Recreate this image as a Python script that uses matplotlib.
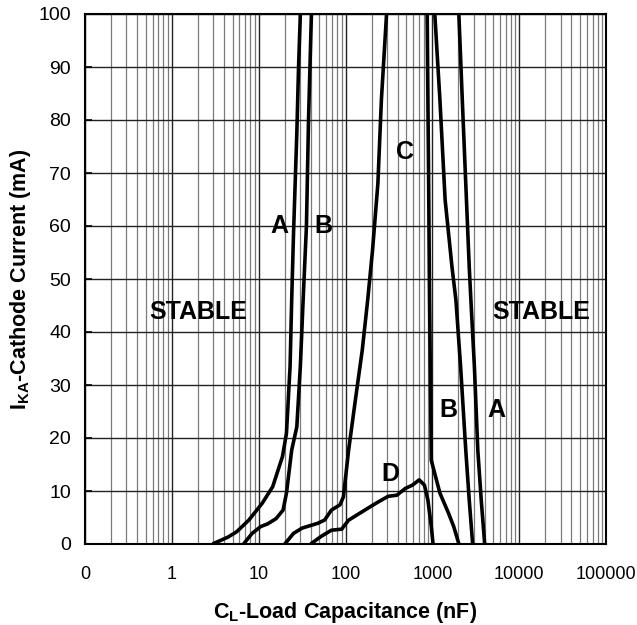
import numpy as np
import matplotlib.pyplot as plt
from matplotlib.ticker import FixedLocator, LogLocator, NullFormatter

plt.rcParams['font.family'] = ['Liberation Sans', 'DejaVu Sans']

# CURVE DATA (x in nF, y in mA)
a_left_x = [2.94, 4.43, 5.57, 7.7, 11, 14.5, 18.8, 20.9, 23, 24, 25.2, 27.5, 28.8, 30.2]
a_left_y = [0, 1.3, 2.3, 4.5, 7.7, 10.8, 16.5, 20.9, 33.5, 46, 58.6, 77.5, 90, 100]
a_right_x = [2020, 2213, 2427, 2660, 2780, 3050, 3340, 3656, 4008]
a_right_y = [100, 83.8, 68, 52.3, 46, 33.5, 17.7, 8.3, 0]

b_left_x = [6.7, 8.4, 10.6, 12.7, 15.9, 19.1, 20.9, 24, 27.5, 30.2, 32.5, 35.5, 37.5, 40.5]
b_left_y = [0, 2, 3.3, 3.8, 4.8, 6.4, 9.6, 17.7, 22.1, 33.5, 46, 60, 80, 100]
b_right_x = [1067, 1223, 1403, 1683, 1870, 2115, 2427, 2660, 2913]
b_right_y = [100, 83.8, 65, 52.3, 46, 33.5, 17.7, 8.3, 0]

c_left_x = [20, 25.2, 31.6, 38, 47.8, 57.3, 68.8, 86.5, 94.6, 108.6, 130, 156, 180, 205, 236, 259, 297]
c_left_y = [0, 2, 3, 3.4, 3.9, 4.5, 6.4, 7.4, 8.9, 17.7, 27.2, 36.6, 46, 55.5, 68, 83.8, 100]
c_right_x = [871, 904, 929, 973, 1066, 1223, 1537, 1762, 2023]
c_right_y = [100, 71, 46, 15.8, 13.3, 9.6, 5.8, 3.3, 0]

d_x = [39.7, 52, 68.8, 90.4, 108.6, 156, 225, 310, 390, 490, 589, 706, 811, 889, 973, 1019]
d_y = [0, 1.4, 2.6, 2.8, 4.5, 6.1, 7.7, 9, 9.2, 10.5, 11.1, 12.1, 11.1, 8.3, 3.3, 0]

x_ticks = [0.1, 1, 10, 100, 1000, 10000, 100000]
x_tick_labels = ['0', '1', '10', '100', '1000', '10000', '100000']
y_ticks = list(range(0, 101, 10))

# CURVE LABELS: (text, x, y)
labels = [('A', 17.5, 60), ('B', 56, 60), ('C', 490, 74), ('D', 325, 13.3),
          ('B', 1540, 25.3), ('A', 5520, 25.3),
          ('STABLE', 2.04, 43.8), ('STABLE', 18100, 43.8)]

fig = plt.figure(figsize=(6.37, 6.25), dpi=100)
ax = fig.add_axes([85/637, 81/625, 521/637, 530/625])

ax.set_xscale('log')
ax.set_xlim(0.1, 100000)
ax.set_ylim(0, 100)

# GRID
ax.xaxis.set_minor_locator(LogLocator(base=10, subs=np.arange(2, 10)))
ax.xaxis.set_minor_formatter(NullFormatter())
ax.grid(which='major', axis='x', color='#222222', linewidth=1.0)
ax.grid(which='minor', axis='x', color='#7a7a7a', linewidth=0.9)
ax.grid(which='major', axis='y', color='#222222', linewidth=1.0)
ax.set_axisbelow(True)

for xs, ys in [(a_left_x, a_left_y), (a_right_x, a_right_y),
               (b_left_x, b_left_y), (b_right_x, b_right_y),
               (c_left_x, c_left_y), (c_right_x, c_right_y),
               (d_x, d_y)]:
    ax.plot(xs, ys, color='black', linewidth=2.6, solid_joinstyle='round',
            solid_capstyle='butt')

for txt, x, y in labels:
    ax.text(x, y, txt, ha='center', va='center', fontsize=18, fontweight='bold')

ax.xaxis.set_major_locator(FixedLocator(x_ticks))
ax.set_xticklabels(x_tick_labels)
ax.set_yticks(y_ticks)
ax.tick_params(axis='x', which='both', length=0, labelsize=13, pad=16)
ax.tick_params(axis='y', which='both', direction='in', length=5, width=1.2,
               labelsize=14, pad=10)
# keep the last tick label inside the picture
ax.get_xticklabels()[-1].set_horizontalalignment('center')
ax.get_xticklabels()[-1].set_x(0.98 * 100000)

for sp in ax.spines.values():
    sp.set_linewidth(1.5)
    sp.set_color('black')

ax.set_xlabel(r'C$_\mathregular{L}$-Load Capacitance (nF)', fontsize=15.5,
              fontweight='bold', labelpad=12)
ax.set_ylabel(r'I$_\mathregular{KA}$-Cathode Current (mA)', fontsize=15.5,
              fontweight='bold', labelpad=4)

fig.savefig('out.png', dpi=100)
